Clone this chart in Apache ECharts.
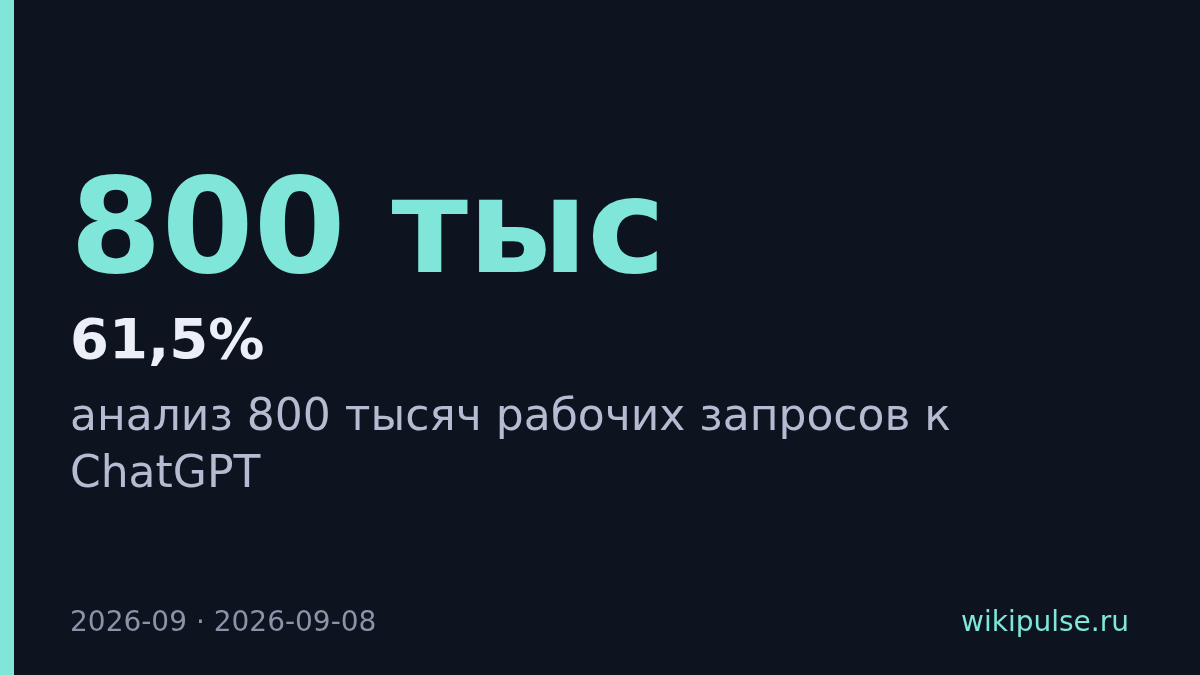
<!DOCTYPE html>
<html>
<head>
<meta charset="utf-8">
<script src="https://cdn.jsdelivr.net/npm/echarts@6/dist/echarts.min.js"></script>
<style>
  html, body { margin: 0; padding: 0; background: #0d1420; }
  #card { width: 1200px; height: 675px; }
</style>
</head>
<body>
<div id="card"></div>
<script>
// текст карточки
var headline = ['800 тыс'];
var subValue = ['61,5%'];
var descLines = ['анализ 800 тысяч рабочих запросов к', 'ChatGPT'];
var footerLeft = ['2026-09 · 2026-09-08'];
var footerRight = ['wikipulse.ru'];

var FONT = '"DejaVu Sans", sans-serif';
var ACCENT = '#7fe6d9';

function drawCard () {
    var myChart = echarts.init(document.getElementById('card'));
    var elements = [
        {
            type: 'rect',
            shape: { x: 0, y: 0, width: 1200, height: 675 },
            style: { fill: '#0d1420' }
        },
        {
            type: 'rect', // полоска слева
            shape: { x: 0, y: 0, width: 14, height: 675 },
            style: { fill: ACCENT }
        },
        {
            type: 'text',
            x: 70, y: 304,
            style: {
                text: headline[0],
                font: 'bold 132px ' + FONT,
                fill: ACCENT,
                verticalAlign: 'bottom'
            }
        },
        {
            type: 'text',
            x: 70, y: 371,
            style: {
                text: subValue[0],
                font: 'bold 56px ' + FONT,
                fill: '#eceff7',
                verticalAlign: 'bottom'
            }
        }
    ];
    descLines.forEach(function (line, i) {
        elements.push({
            type: 'text',
            x: 70, y: 441 + i * 57,
            style: {
                text: line,
                font: '44px ' + FONT,
                fill: '#b5bbd0',
                verticalAlign: 'bottom'
            }
        });
    });
    elements.push({
        type: 'text',
        x: 70, y: 638,
        style: {
            text: footerLeft[0],
            font: '28px ' + FONT,
            fill: '#8b93a8',
            verticalAlign: 'bottom'
        }
    });
    elements.push({
        type: 'text',
        x: 1129, y: 638,
        style: {
            text: footerRight[0],
            font: '28px ' + FONT,
            fill: ACCENT,
            align: 'right',
            verticalAlign: 'bottom'
        }
    });
    var option = {
        backgroundColor: '#0d1420',
        animation: false,
        graphic: { elements: elements }
    };
    myChart.setOption(option);
}

drawCard();
</script>
</body>
</html>
